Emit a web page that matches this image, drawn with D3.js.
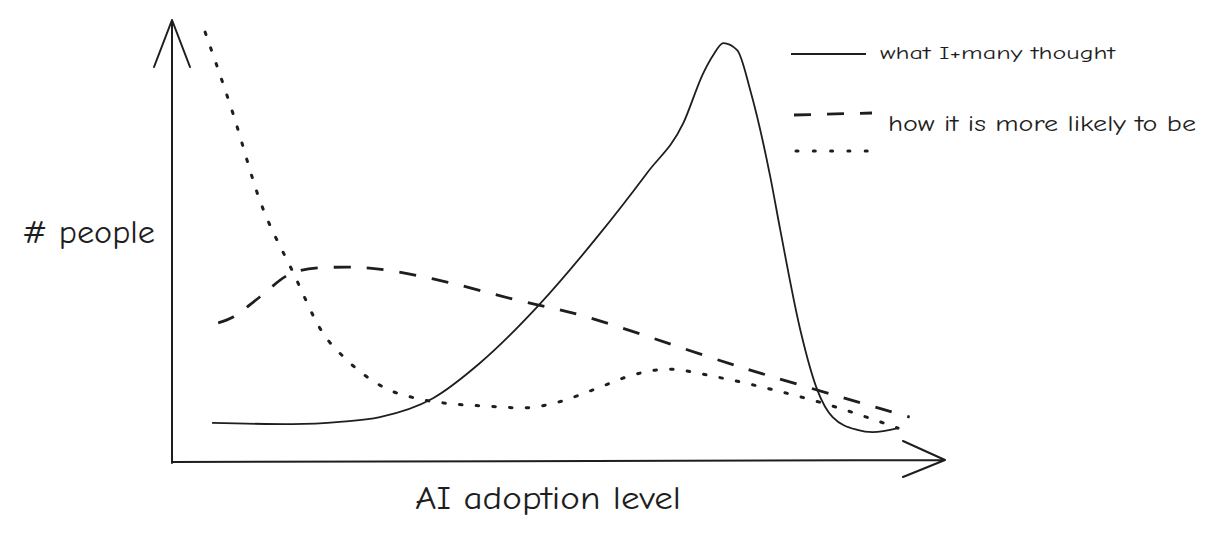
<!DOCTYPE html>
<html>
<head>
<meta charset="utf-8">
<script src="https://cdn.jsdelivr.net/npm/d3@7"></script>
<style>
  html, body { margin: 0; padding: 0; background: #fff; }
  svg { display: block; }
  text { font-family: "Comic Neue", Lato, "Noto Sans", sans-serif; fill: #1e1e1e; }
</style>
</head>
<body>
<div id="chart"></div>
<script>
// x = adoption level (0-100), y = # people (0-100)
const thoughtX = [5.2, 15.7, 21.8, 27.0, 33.9, 40.0, 47.4, 55.2, 61.7, 66.4, 69.0, 70.3, 71.6, 73.4, 75.1, 77.7, 79.0, 81.6, 83.8, 85.8, 89.0, 91.0, 94.3];
const thoughtY = [8.9, 8.6, 9.1, 10.2, 14.5, 22.5, 35.2, 51.1, 65.7, 77.0, 88.4, 92.5, 95.2, 93.6, 84.5, 64.8, 52.7, 30.0, 16.4, 10.2, 7.3, 6.8, 7.7];

const likelyAX = [6.0, 8.0, 11.4, 15.7, 22.7, 27.9, 35.7, 44.3, 53.0, 73.8, 95.8];
const likelyAY = [31.6, 33.0, 37.5, 43.0, 44.3, 43.6, 40.9, 37.0, 33.4, 21.6, 10.2];

const likelyBX = [4.3, 7.9, 11.4, 15.7, 19.6, 22.7, 27.7, 32.2, 36.4, 40.9, 45.5, 49.7, 54.7, 59.9, 64.3, 70.8, 78.1, 84.5, 94.3];
const likelyBY = [97.7, 79.3, 59.5, 43.2, 29.3, 23.2, 16.8, 14.3, 13.2, 12.7, 12.3, 13.4, 16.4, 19.8, 21.1, 19.3, 16.4, 13.4, 7.7];

const xLabel = "AI adoption level";
const yLabel = "# people";
const legendLabels = ["what I+many thought", "how it is more likely to be"];

const width = 1216, height = 540;
const ink = "#1e1e1e";

const svg = d3.select("#chart").append("svg")
  .attr("width", width)
  .attr("height", height);

const x = d3.scaleLinear().domain([0, 100]).range([172, 942]);
const y = d3.scaleLinear().domain([0, 100]).range([462, 22]);

// axes, drawn as plain arrows
const [x0, x1] = x.range();
const [y0, y1] = y.range();
svg.append("path")
  .attr("d", `M${x0},${y0 + 1} L${x0},${y1 - 2} M${x0 - 18},${y1 + 45} L${x0},${y1 - 2} L${x0 + 18},${y1 + 45}`)
  .attr("fill", "none").attr("stroke", ink).attr("stroke-width", 2)
  .attr("stroke-linecap", "round").attr("stroke-linejoin", "round");
svg.append("path")
  .attr("d", `M${x0},${y0} L${x1 + 3},${y0 - 2} M${x1 - 39},${y0 - 21} L${x1 + 3},${y0 - 2} L${x1 - 39},${y0 + 15}`)
  .attr("fill", "none").attr("stroke", ink).attr("stroke-width", 2)
  .attr("stroke-linecap", "round").attr("stroke-linejoin", "round");

const line = d3.line()
  .x(d => x(d[0]))
  .y(d => y(d[1]))
  .curve(d3.curveMonotoneX);

svg.append("path")
  .datum(d3.zip(thoughtX, thoughtY))
  .attr("d", line)
  .attr("fill", "none").attr("stroke", ink).attr("stroke-width", 1.8);

svg.append("path")
  .datum(d3.zip(likelyAX, likelyAY))
  .attr("d", line.curve(d3.curveCatmullRom.alpha(0.5)))
  .attr("fill", "none").attr("stroke", ink).attr("stroke-width", 2.8)
  .attr("stroke-dasharray", "17 16");

svg.append("path")
  .datum(d3.zip(likelyBX, likelyBY))
  .attr("d", line.curve(d3.curveMonotoneX))
  .attr("fill", "none").attr("stroke", ink).attr("stroke-width", 3)
  .attr("stroke-linecap", "round")
  .attr("stroke-dasharray", "2.5 14.2");

// legend
const legend = svg.append("g");
legend.append("line").attr("x1", 791).attr("x2", 866).attr("y1", 54).attr("y2", 54)
  .attr("stroke", ink).attr("stroke-width", 1.8);
legend.append("line").attr("x1", 794).attr("x2", 872).attr("y1", 115).attr("y2", 113)
  .attr("stroke", ink).attr("stroke-width", 2.8).attr("stroke-dasharray", "17 16");
legend.append("line").attr("x1", 796).attr("x2", 870).attr("y1", 151).attr("y2", 151)
  .attr("stroke", ink).attr("stroke-width", 3).attr("stroke-linecap", "round")
  .attr("stroke-dasharray", "2 15.3");

legend.append("text").attr("x", 880).attr("y", 59)
  .attr("font-size", 19).attr("textLength", 235).attr("lengthAdjust", "spacingAndGlyphs")
  .text(legendLabels[0]);
legend.append("text").attr("x", 888).attr("y", 131)
  .attr("font-size", 23).attr("textLength", 308).attr("lengthAdjust", "spacingAndGlyphs")
  .text(legendLabels[1]);

// axis titles
svg.append("text").attr("x", 22).attr("y", 243)
  .attr("font-size", 33).attr("textLength", 133).attr("lengthAdjust", "spacingAndGlyphs")
  .text(yLabel);
svg.append("text").attr("x", 415).attr("y", 509)
  .attr("font-size", 33).attr("textLength", 266).attr("lengthAdjust", "spacingAndGlyphs")
  .text(xLabel);
</script>
</body>
</html>
